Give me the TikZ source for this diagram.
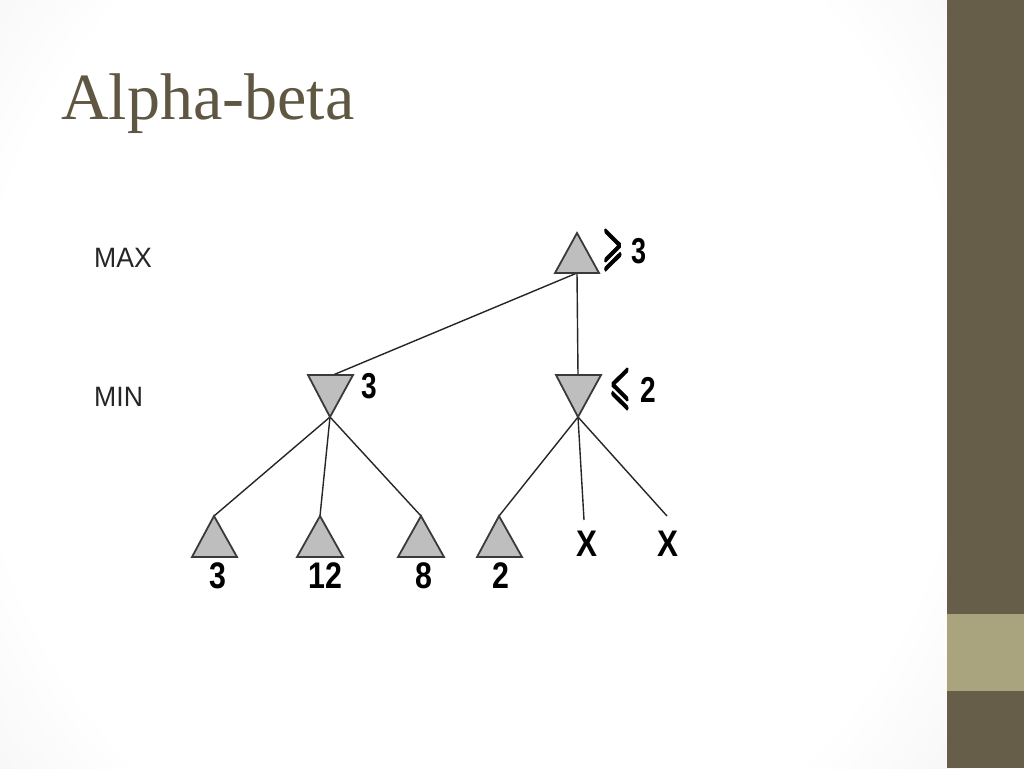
\documentclass[tikz,border=0pt]{standalone}
\usepackage{fontspec}
\setmainfont{Liberation Serif}
\newfontfamily\arialf{Liberation Sans}
\newfontfamily\relfont[FakeBold=6]{Latin Modern Math}
\definecolor{olive}{HTML}{665E48}
\definecolor{olivelight}{HTML}{A9A37E}
\definecolor{titlec}{HTML}{5F5741}
\definecolor{trifill}{HTML}{BEBEBE}
\definecolor{triedge}{HTML}{3A3A3A}
\pgfdeclareradialshading{bgshade}{\pgfpoint{0bp}{0bp}}{color(0bp)=(white); color(25bp)=(white); color(42bp)=(black!9); color(55bp)=(black!16); color(75bp)=(black!20)}
\newcommand{\relsym}[1]{\scalebox{0.62}[1.3]{\relfont\fontsize{40}{42}\selectfont #1}}
\begin{document}
\begin{tikzpicture}[x=1pt,y=-1pt,
  tri/.style={fill=trifill,draw=triedge,line width=1.8pt,line join=miter},
  edge/.style={draw=black!85,line width=1.4pt},
  lvl/.style={font=\arialf\fontsize{28}{30}\selectfont,text=black!85,inner sep=0pt,anchor=west},
  val/.style={font=\arialf\bfseries\fontsize{37}{39}\selectfont,inner sep=0pt},
  upval/.style={font=\arialf\bfseries\fontsize{36}{38}\selectfont,inner sep=0pt,anchor=base west}]
\useasboundingbox (0,0) rectangle (1024,768);
% background
\shade[shading=bgshade] (-20,-150) rectangle (960,900);
\fill[white] (68,175) rectangle (760,625);
\fill[olive] (947,0) rectangle (1024,768);
\fill[olivelight] (947,614) rectangle (1024,691);
% title
\node[anchor=base west,inner sep=0pt,text=titlec,font=\fontsize{66}{70}\selectfont] (title) at (61,119) {Alpha-beta};
% level labels
\node[lvl] (max) at (94,258) {\scalebox{0.95}[1]{MAX}};
\node[lvl] (min) at (94,397) {\scalebox{0.95}[1]{MIN}};
% coordinates of node anchors
\coordinate (rootb) at (577,273);
\coordinate (lmt) at (333,375);
\coordinate (lma) at (330,417);
\coordinate (rmt) at (578,375);
\coordinate (rma) at (578,417);
\coordinate (l1) at (214,516);
\coordinate (l2) at (320,516);
\coordinate (l3) at (421,516);
\coordinate (l4) at (499,516);
\coordinate (x1e) at (584,520);
\coordinate (x2e) at (667,516);
% edges
\draw[edge] (rootb) -- (lmt);
\draw[edge] (rootb) -- (rmt);
\draw[edge] (lma) -- (l1);
\draw[edge] (lma) -- (l2);
\draw[edge] (lma) -- (l3);
\draw[edge] (rma) -- (l4);
\draw[edge] (rma) -- (x1e);
\draw[edge] (rma) -- (x2e);
% triangles
\path[tri] (577,233) -- (599,273) -- (555,273) -- cycle;
\path[tri] (308,375) -- (353,375) -- (330,417) -- cycle;
\path[tri] (556,375) -- (601,375) -- (578,417) -- cycle;
\path[tri] (214,516) -- (237,557) -- (192,557) -- cycle;
\path[tri] (320,516) -- (343,557) -- (297,557) -- cycle;
\path[tri] (421,516) -- (444,557) -- (398,557) -- cycle;
\path[tri] (499,516) -- (522,557) -- (477,557) -- cycle;
% values
\node[upval] (vroot) at (603,263) {\relsym{⩾}\kern9pt\scalebox{0.75}[1]{3}};
\node[upval] (vlmin) at (361,398) {\scalebox{0.78}[1]{3}};
\node[upval] (vrmin) at (610,402) {\relsym{⩽}\kern11pt\scalebox{0.78}[1]{2}};
\node[val] (v1) at (218,576) {\scalebox{0.82}[1]{3}};
\node[val] (v2) at (325,576) {\scalebox{0.82}[1]{12}};
\node[val] (v3) at (424,576) {\scalebox{0.82}[1]{8}};
\node[val] (v4) at (501,576) {\scalebox{0.82}[1]{2}};
\node[val] (x1) at (587,544) {\scalebox{0.85}[1]{X}};
\node[val] (x2) at (668,544) {\scalebox{0.85}[1]{X}};
\end{tikzpicture}
\end{document}
